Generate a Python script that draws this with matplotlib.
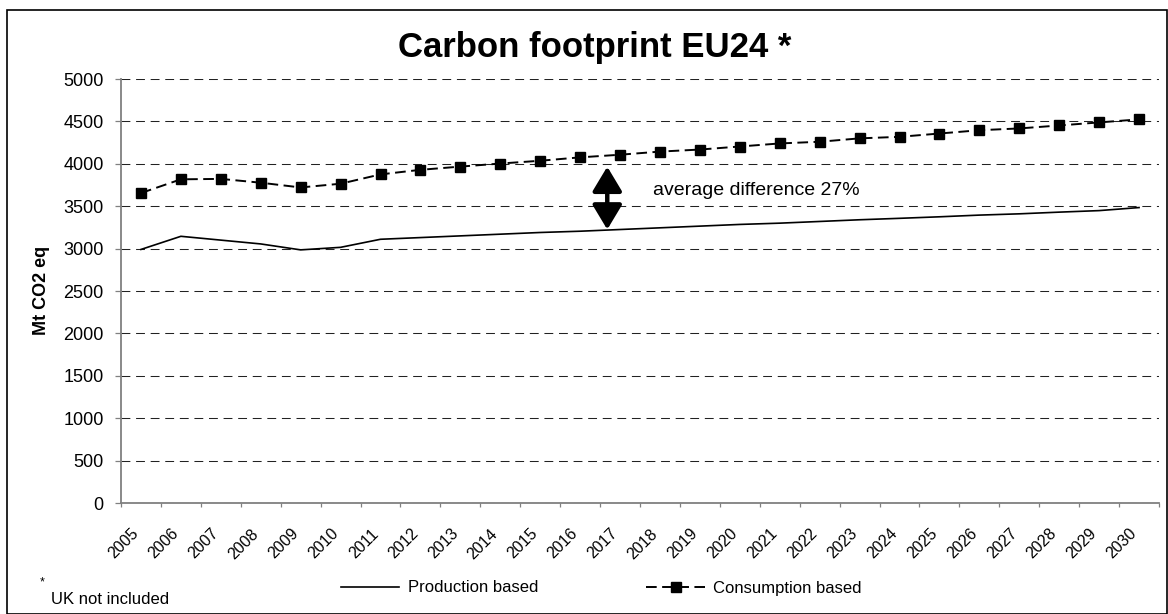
import matplotlib
matplotlib.use("Agg")
import matplotlib.pyplot as plt
from matplotlib.patches import Rectangle
from matplotlib.transforms import ScaledTranslation
import numpy as np

plt.rcParams['font.family'] = ['Liberation Sans', 'DejaVu Sans']

# --- data (Mt CO2 eq) ---
years = [str(y) for y in range(2005, 2031)]
production = [2990, 3145, 3100, 3055, 2985, 3015, 3110, 3130, 3150, 3170,
              3190, 3205, 3225, 3245, 3265, 3285, 3300, 3320, 3340, 3357,
              3375, 3395, 3410, 3430, 3448, 3484]
consumption = [3655, 3817, 3822, 3777, 3721, 3765, 3875, 3929, 3967, 4003,
               4036, 4076, 4107, 4144, 4168, 4204, 4240, 4260, 4300, 4318,
               4357, 4396, 4417, 4452, 4488, 4524]
y_ticks = list(range(0, 5001, 500))
title = "Carbon footprint EU24 *"
y_label = "Mt CO2 eq"
note = "average difference 27%"
footnote = "UK not included"

W, H, DPI = 1168, 614, 100
fig = plt.figure(figsize=(W / DPI, H / DPI), dpi=DPI)
ax = fig.add_axes([121 / W, 1 - 503 / H, (1159 - 121) / W, (503 - 79) / H])

x = np.arange(len(years))

# grid
ax.set_ylim(0, 5000)
ax.set_xlim(-0.5, len(years) - 0.5)
ax.set_yticks(y_ticks)
ax.yaxis.grid(True, color='#222222', lw=0.75, linestyle=(0, (8.5, 5.5)))
ax.set_axisbelow(True)
for s in ('top', 'right'):
    ax.spines[s].set_visible(False)
for s in ('left', 'bottom'):
    ax.spines[s].set_color('#808080')
    ax.spines[s].set_linewidth(1.3)

ax.tick_params(axis='y', length=4.5, width=0.9, color='#808080', pad=8,
               labelsize=13)
# category boundaries carry the x ticks; labels sit under category centres
ax.set_xticks(np.arange(len(years) + 1) - 0.5)
ax.set_xticklabels([])
ax.tick_params(axis='x', length=3, width=0.9, color='#808080')

off = ScaledTranslation(-10 / DPI, -23 / DPI, fig.dpi_scale_trans)
for xi, lab in zip(x, years):
    ax.text(xi, 0, lab, transform=ax.get_xaxis_transform() + off,
            rotation=45, ha='right', va='top', rotation_mode='anchor',
            fontsize=11.5, color='black')

# series
ax.plot(x, production, color='black', lw=1.2, label='Production based',
        solid_joinstyle='miter')
ax.plot(x, consumption, color='black', lw=1.4, linestyle=(0, (5.5, 2.8)),
        marker='s', markersize=7.5, markerfacecolor='black',
        markeredgecolor='black', label='Consumption based')

# difference arrow
ax.annotate('', xy=(11.68, 3225), xytext=(11.68, 3966),
            arrowprops=dict(arrowstyle='<|-|>,head_length=0.75,head_width=0.45',
                            mutation_scale=20, lw=3.2, color='black',
                            shrinkA=0, shrinkB=0))
ax.text(12.83, 3691, note, fontsize=14, ha='left', va='center')

# legend
leg = fig.legend(loc='center left', bbox_to_anchor=(341 / W, 1 - 588 / H),
                 ncol=2, frameon=False, fontsize=12, handlelength=3.5,
                 handletextpad=0.5, columnspacing=6.5, borderpad=0,
                 borderaxespad=0)

# titles and notes
fig.text(595 / W, 1 - 48 / H, title, fontsize=25, fontweight='bold',
         ha='center', va='center')
fig.text(42 / W, 1 - 290 / H, y_label, fontsize=13, fontweight='bold',
         rotation=90, ha='center', va='center')
fig.text(42 / W, 1 - 582 / H, '*', fontsize=9, ha='center', va='center')
fig.text(51 / W, 1 - 599 / H, footnote, fontsize=12, ha='left', va='center')

# outer frame
fig.patches.append(Rectangle((7 / W, 0.5 / H), (W - 8) / W, (H - 10.5) / H,
                             transform=fig.transFigure, fill=False,
                             edgecolor='black', lw=1.2))

fig.savefig('out.png', dpi=DPI)
